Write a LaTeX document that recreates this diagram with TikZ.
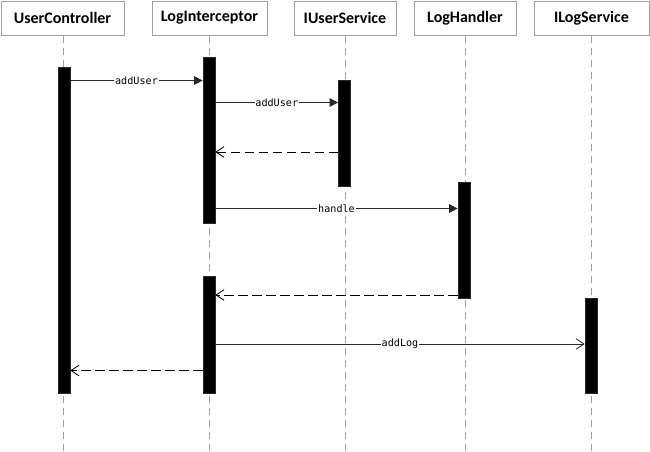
\documentclass[tikz,border=0pt]{standalone}
\usepackage{fontspec}
\setmainfont{Carlito}
\newfontfamily\msgfont{DejaVu Sans Mono}
\usetikzlibrary{arrows.meta}
\definecolor{boxgray}{RGB}{160,160,160}
\definecolor{linegray}{RGB}{40,40,40}
\tikzset{every picture/.style={line width=0.75pt}}
\tikzset{
  head/.style={draw=boxgray, line width=0.75pt, fill=white, minimum height=25.5pt, inner sep=0pt, font=\fontsize{12}{14}\selectfont\bfseries},
  bar/.style={draw=linegray, fill=black, minimum width=9pt, inner sep=0pt, line width=0.5pt},
  lifeline/.style={draw=boxgray, dash pattern=on 5.5pt off 3.5pt},
  call/.style={draw=linegray, -{Triangle[length=6.5pt,width=6.5pt]}},
  asyncall/.style={draw=linegray, -{Straight Barb[length=6pt,width=8pt,line width=0.6pt]}},
  reply/.style={draw=black, dash pattern=on 7pt off 3.5pt, -{Straight Barb[length=6pt,width=8pt,line width=0.6pt]}},
  lbl/.style={fill=white, inner sep=0.6pt, font=\msgfont\fontsize{7.6}{8}\selectfont}
}

\begin{document}
\begin{tikzpicture}[x=0.75pt,y=0.75pt,yscale=-1,xscale=1]
\useasboundingbox (0,0) rectangle (650,451);

% Header Nodes
\node [head, minimum width=92.25pt] (uc) at (62.5,18) {UserController};
\node [head, minimum width=86.25pt] (li) at (209.5,18) {LogInterceptor};
\node [head, minimum width=76.5pt] (ius) at (345,18) {IUserService};
\node [head, minimum width=76.5pt] (lh) at (465,18) {LogHandler};
\node [head, minimum width=86.25pt] (ils) at (591.5,18) {ILogService};

%Lifelines
\draw [lifeline] (uc.south) ++(1,0) coordinate (ucs) -- (ucs |- 0,451);
\draw [lifeline] (li.south) -- (li.south |- 0,451);
\draw [lifeline] (ius.south) -- (ius.south |- 0,451);
\draw [lifeline] (lh.south) -- (lh.south |- 0,451);
\draw [lifeline] (ils.south) -- (ils.south |- 0,451);

%Activation Bars
\node [bar, minimum height=244.5pt] (ucbar) at (64,230) {};
\node [bar, minimum height=124.5pt] (libara) at (209,140) {};
\node [bar, minimum height=79.5pt] (iusbar) at (344.5,133) {};
\node [bar, minimum height=87pt] (lhbar) at (464,240) {};
\node [bar, minimum height=87.75pt] (libarb) at (209,334.5) {};
\node [bar, minimum height=71.25pt] (ilsbar) at (591,345.5) {};

%Messages
\draw [call] (ucbar.east |- 0,80.5) -- node [lbl] {addUser} (libara.west |- 0,80.5);
\draw [call] (libara.east |- 0,102.5) -- node [lbl] {addUser} (iusbar.west |- 0,102.5);
\draw [reply] (iusbar.west |- 0,152) -- (libara.east |- 0,152);
\draw [call] (libara.east |- 0,208.5) -- node [lbl] {handle} (lhbar.west |- 0,208.5);
\draw [reply] (lhbar.west |- 0,295) -- (libarb.east |- 0,295);
\draw [asyncall] (libarb.east |- 0,344) -- node [lbl] {addLog} (ilsbar.west |- 0,344);
\draw [reply] (libarb.west |- 0,370.5) -- (ucbar.east |- 0,370.5);

\end{tikzpicture}
\end{document}
